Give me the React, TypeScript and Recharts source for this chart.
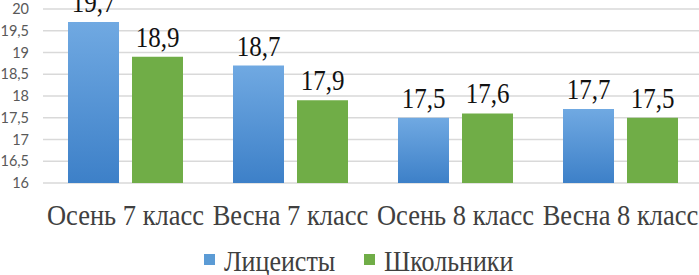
import React from 'react';
import { BarChart, Bar, XAxis, YAxis, CartesianGrid, Legend, LabelList } from 'recharts';

const categories = ['Осень 7 класс', 'Весна 7 класс', 'Осень 8 класс', 'Весна 8 класс'];
const lyceumValues = [19.7, 18.7, 17.5, 17.7];
const schoolValues = [18.9, 17.9, 17.6, 17.5];
const yTicks = [16, 16.5, 17, 17.5, 18, 18.5, 19, 19.5, 20];

const data = categories.map((c, i) => ({
  name: c,
  lyceum: lyceumValues[i],
  school: schoolValues[i],
}));

const SERIF = '"Liberation Serif", "Times New Roman", serif';
const STRETCH = 1.15;

const fmt = (v: number) => String(v).replace('.', ',');

const XTick = (props: any) => {
  const { x, y, payload } = props;
  return (
    <g transform={`translate(${x},${y}) scale(1,${STRETCH})`}>
      <text x={0} y={36.5} textAnchor="middle" fontFamily={SERIF} fontSize={26.5} fill="#404040">
        {payload.value}
      </text>
    </g>
  );
};

const ValueLabel = (props: any) => {
  const { x, y, width, value } = props;
  const cx = Number(x) + Number(width) / 2;
  const by = Number(y) - 10;
  return (
    <g transform={`translate(${cx},${by}) scale(1,${STRETCH})`}>
      <text x={0} y={0} textAnchor="middle" fontFamily={SERIF} fontSize={25} fill="#111">
        {fmt(Number(value))}
      </text>
    </g>
  );
};

const legendStarts = [204, 364];

const LegendContent = (props: any) => {
  const { payload } = props;
  return (
    <svg width={699} height={30} style={{ display: 'block', overflow: 'visible' }}>
      {(payload || []).map((p: any, i: number) => (
        <g key={p.value}>
          <rect x={legendStarts[i]} y={9} width={11} height={11} fill={i === 0 ? '#5b9bd5' : '#70ad47'} />
          <g transform={`translate(${legendStarts[i] + 20},26) scale(1,${STRETCH})`}>
            <text x={0} y={0} fontFamily={SERIF} fontSize={26} fill="#404040">
              {p.value}
            </text>
          </g>
        </g>
      ))}
    </svg>
  );
};

export default function App() {
  return (
    <div style={{ position: 'absolute', left: 0, top: 0, width: 699, height: 275, background: '#fff' }}>
      <BarChart
        width={699}
        height={275}
        data={data}
        margin={{ top: 9, right: -4, left: 0, bottom: 0 }}
        barGap={13}
        barSize={51}
      >
        <defs>
          <linearGradient id="blueGrad" x1="0" y1="0" x2="0" y2="1">
            <stop offset="0%" stopColor="#70a9e2" />
            <stop offset="100%" stopColor="#3d80c8" />
          </linearGradient>
        </defs>
        <CartesianGrid vertical={false} stroke="#d9d9d9" strokeWidth={1.5} />
        <XAxis
          dataKey="name"
          axisLine={false}
          tickLine={false}
          tickSize={0}
          tickMargin={0}
          height={62}
          interval={0}
          tick={<XTick />}
        />
        <YAxis
          domain={[16, 20]}
          ticks={yTicks}
          interval={0}
          axisLine={false}
          tickLine={false}
          tickSize={0}
          tickMargin={14}
          width={43}
          tickFormatter={fmt}
          tick={{ fontFamily: 'Lato, "Open Sans", sans-serif', fontSize: 14.5, fill: '#595959' }}
        />
        <Legend verticalAlign="bottom" height={30} content={<LegendContent />} />
        <Bar dataKey="lyceum" name="Лицеисты" fill="url(#blueGrad)" isAnimationActive={false}>
          <LabelList dataKey="lyceum" content={<ValueLabel />} />
        </Bar>
        <Bar dataKey="school" name="Школьники" fill="#70ad47" isAnimationActive={false}>
          <LabelList dataKey="school" content={<ValueLabel />} />
        </Bar>
      </BarChart>
    </div>
  );
}
